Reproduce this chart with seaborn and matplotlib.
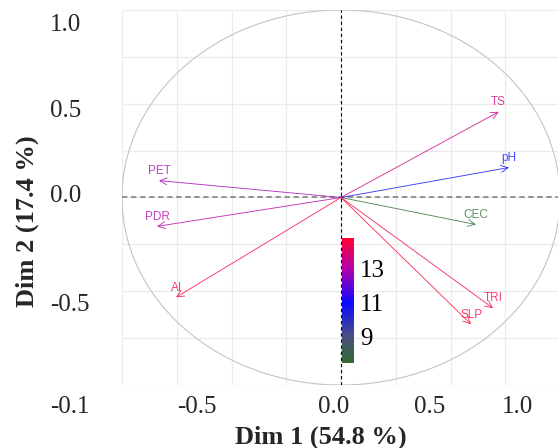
import numpy as np
import pandas as pd
import matplotlib
matplotlib.use("Agg")
import matplotlib.pyplot as plt
import seaborn as sns
from matplotlib.colors import LinearSegmentedColormap, Normalize
from matplotlib.cm import ScalarMappable

# ---- data ----
variables = ["TS", "pH", "CEC", "TRI", "SLP", "PET", "PDR", "AI"]
dim1 = [0.72, 0.767, 0.616, 0.694, 0.594, -0.831, -0.84, -0.753]
dim2 = [0.457, 0.16, -0.144, -0.59, -0.676, 0.09, -0.154, -0.532]
contrib = [13.6, 11.0, 7.45, 14.5, 14.8, 12.8, 13.1, 14.6]

x_tick_labels = ["-0.1", "-0.5", "0.0", "0.5", "1.0"]
y_tick_labels = ["1.0", "0.5", "0.0", "-0.5"]
cbar_ticks = [9, 11, 13]
x_title = "Dim 1 (54.8 %)"
y_title = "Dim 2 (17.4 %)"

df = pd.DataFrame({"var": variables, "x": dim1, "y": dim2, "contrib": contrib})

sns.set_theme(style="whitegrid")
SERIF = "Liberation Serif"
SANS = "Liberation Sans"

W, H = 558, 448
fig = plt.figure(figsize=(W / 100, H / 100), dpi=100)
fig.patch.set_facecolor("white")
ax = fig.add_axes([122 / W, 1 - 385 / H, 438 / W, 375 / H])
ax.set_facecolor("white")
ax.set_xlim(-1, 1)
ax.set_ylim(-1, 1)
ax.set_xticks([-1, -0.5, 0, 0.5, 1])
ax.set_yticks([-1, -0.5, 0, 0.5, 1])
ax.set_xticks([-0.75, -0.25, 0.25, 0.75], minor=True)
ax.set_yticks([-0.75, -0.25, 0.25, 0.75], minor=True)
ax.grid(True, which="both", color="#EBEBEB", lw=0.9)
ax.tick_params(which="both", length=0, labelbottom=False, labelleft=False)
for s in ax.spines.values():
    s.set_visible(False)
ax.set_xlabel("")
ax.set_ylabel("")

# correlation circle
theta = np.linspace(0, 2 * np.pi, 361)
sns.lineplot(x=np.cos(theta), y=np.sin(theta), sort=False, estimator=None,
             color="#C4C4C4", lw=0.8, ax=ax)

ax.axhline(0, color="#8A8A8A", ls=(0, (3, 2)), lw=1.3, zorder=2)
ax.axvline(0, color="black", ls=(0, (3, 2.5)), lw=0.8, zorder=2)

# colour scale
cmap = LinearSegmentedColormap.from_list(
    "contrib",
    [(0.0, "#2E6B30"), (0.21, "#4A4F80"), (0.48, "#0A0AFF"),
     (0.75, "#B000AE"), (1.0, "#FF0030")])
norm = Normalize(vmin=min(contrib), vmax=max(contrib))

for _, r in df.iterrows():
    col = cmap(norm(r["contrib"]))
    ax.annotate("", xy=(r["x"], r["y"]), xytext=(0, 0),
                arrowprops=dict(arrowstyle="->,head_length=0.5,head_width=0.25",
                                color=col, lw=0.65, alpha=0.8, shrinkA=0,
                                shrinkB=0, mutation_scale=10), zorder=3)
    ax.annotate(r["var"], xy=(r["x"], r["y"]), xytext=(0, 7),
                textcoords="offset points", ha="center", va="center",
                color=col, fontsize=8.5, family=SANS, alpha=0.75, zorder=4)


def ptext(px, py, s, **kw):
    fig.text(px / W, 1 - py / H, s, **kw)


# tick labels (placed as in the reference)
for lbl, px in zip(x_tick_labels, [50, 177, 318, 414, 502]):
    ptext(px, 413, lbl, ha="left", va="baseline", fontsize=18, family=SERIF)
for lbl, py in zip(y_tick_labels, [31, 117, 202, 311]):
    ptext(50, py, lbl, ha="left", va="baseline", fontsize=18, family=SERIF)

ptext(321, 444, x_title, ha="center", va="baseline", fontsize=19,
      fontweight="bold", family=SERIF)
ptext(27, 221, y_title, ha="center", va="center", rotation=90, fontsize=19,
      fontweight="bold", family=SERIF)

# colorbar
cax = fig.add_axes([342 / W, 1 - 363 / H, 12 / W, 125 / H])
cb = fig.colorbar(ScalarMappable(norm=norm, cmap=cmap), cax=cax)
cb.outline.set_visible(False)
cb.set_ticks(cbar_ticks)
cax.grid(False)
cax.tick_params(axis="y", which="major", direction="in", color="white",
                labelcolor="black", left=True, right=True, length=3, width=1,
                pad=4.5, labelsize=18)
for t in cax.get_yticklabels():
    t.set_family(SERIF)

fig.savefig("out.png", dpi=100)
